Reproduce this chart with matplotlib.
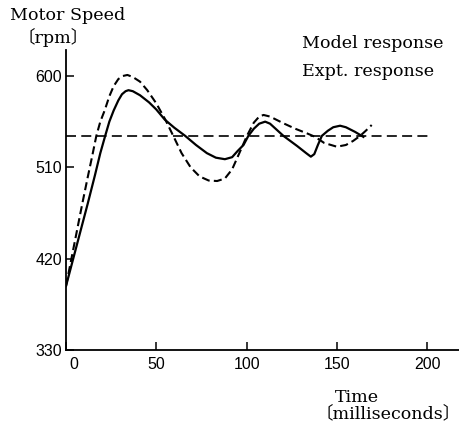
import numpy as np
import matplotlib
matplotlib.use('Agg')
import matplotlib.pyplot as plt
import matplotlib.transforms as mtransforms

# data (time in ms, speed in rpm)
model_t = [0, 4, 8, 12, 16, 19, 21.7, 24, 26.4, 29, 31, 33, 34.6, 37, 41, 46, 50, 54.7,
           60, 66, 72, 78, 83, 88, 92, 95, 98.3, 101, 104, 107, 110.3, 113, 120.4, 128,
           133, 135.6, 137.5, 139.5, 141.7, 145, 148, 151.8, 155, 160, 164.7]
model_v = [393, 420, 447, 474, 502, 524, 541, 555, 566, 576, 582, 585, 586, 585, 581, 574, 567, 557,
           549, 541, 532, 524, 519.5, 518, 520, 526, 532, 541, 548, 553, 555, 553, 541, 531,
           524, 520.5, 523, 532, 541, 546, 549.5, 551, 549.5, 545, 540]

expt_t = [0, 3, 6, 9, 12, 14.5, 16.8, 19, 21.4, 24, 26.4, 29, 31.5, 34, 37, 41, 45, 50, 55,
          59.4, 64, 69, 74, 79, 83.7, 88, 92, 96, 100.2, 104, 107, 109.4, 113, 120.4, 127,
          133.4, 138, 143, 150, 155, 159, 162.9, 166, 169.3]
expt_v = [393, 420, 447, 474, 500, 521, 541, 555, 566, 580, 590, 597, 600, 601, 599, 594.4, 586, 573, 557,
          541, 524, 510, 501, 497, 496.5, 499, 508, 524, 541, 554, 560, 561.6, 560, 553.4, 548,
          543.5, 540, 534, 530.3, 532, 536, 541, 546, 551.7]

set_t = [0, 202]
set_v = [541, 541]

xticks = [0, 50, 100, 150, 200]
yticks = [330, 420, 510, 600]

plt.rcParams['lines.scale_dashes'] = False
serif = ['DejaVu Serif', 'Noto Sans CJK JP']
W, H = 460, 424

fig = plt.figure(figsize=(4.6, 4.24), dpi=100)
ax = fig.add_axes([66 / W, 74 / H, 394 / W, 300 / H])

ax.plot(set_t, set_v, color='black', lw=1.2, linestyle=(0, (7.2, 3.8)))
ax.plot(model_t, model_v, color='black', lw=1.6)
ax.plot(expt_t, expt_v, color='black', lw=1.5, linestyle=(0, (5.8, 3.0)))

ax.set_xlim(0, 218.2)
ax.set_ylim(330, 625.6)
for s in ['top', 'right']:
    ax.spines[s].set_visible(False)
for s in ['left', 'bottom']:
    ax.spines[s].set_linewidth(1.3)

ax.set_xticks(xticks)
ax.set_yticks(yticks)
ax.tick_params(direction='in', length=5.8, width=1.1, labelsize=11.5)
ax.tick_params(axis='x', pad=5)
ax.tick_params(axis='y', pad=3)
for lab in ax.get_xticklabels() + ax.get_yticklabels():
    lab.set_family('Liberation Sans')
# the "0" label sits a little right of the axis
lab0 = ax.get_xticklabels()[0]
lab0.set_transform(lab0.get_transform() + mtransforms.ScaledTranslation(8 / 100, 0, fig.dpi_scale_trans))

def ftext(x, y, s):
    fig.text(x / W, 1 - y / H, s, family=serif, fontsize=12.6, va='baseline', ha='left')

ftext(10, 20, 'Motor Speed')
ftext(17, 43, '〔rpm〕')
ftext(302, 48, 'Model response')
ftext(302, 76, 'Expt. response')
ftext(335, 402, 'Time')
ftext(316, 418, '〔milliseconds〕')

fig.savefig('out.png', dpi=100)
